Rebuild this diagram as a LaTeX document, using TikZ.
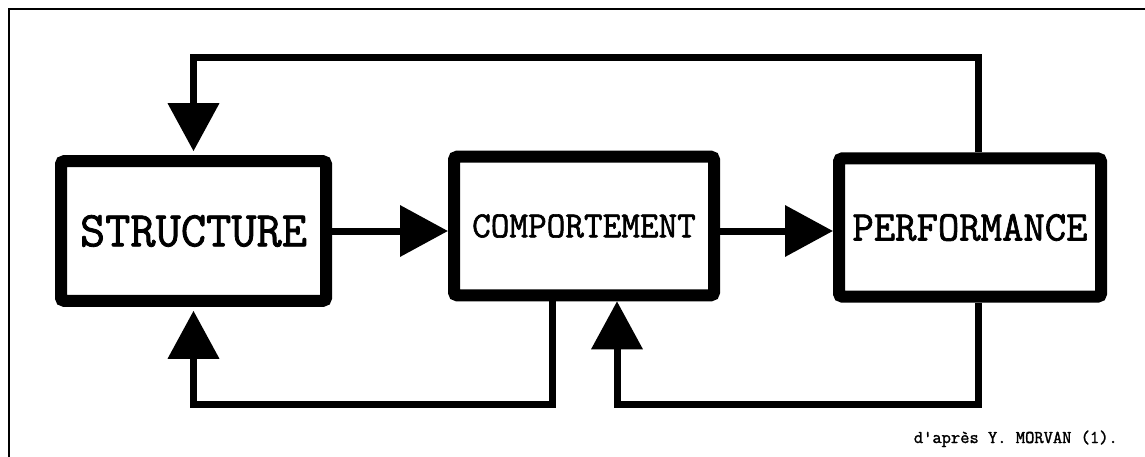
\documentclass[tikz,border=0pt]{standalone}
\usepackage{fontspec}
\usepackage{graphicx}
\usetikzlibrary{arrows.meta,calc}
\newfontfamily\heavymono{Latin Modern Mono}[FakeBold=1.6]
\tikzset{
  blockbox/.style={draw=black, line width=12pt, rounded corners=3pt, inner sep=0pt, fill=white},
  feed/.style={draw=black, line width=7pt, -{Triangle[length=48pt,width=50pt]}},
}
\newcommand{\blocklabel}[2]{\scalebox{1}[1.02]{\fontsize{#1}{#1}\heavymono #2}}
\begin{document}
\begin{tikzpicture}[x=1pt,y=-1pt]
\useasboundingbox (0,0) rectangle (1145,457);
% frame (top and left edges only)
\draw[line width=2pt] (9,457) -- (9,9) -- (1145,9);

\node[blockbox, minimum width=265pt, minimum height=139.5pt] (S) at (193.5,231) {\blocklabel{49pt}{STRUCTURE}};
\node[blockbox, minimum width=260pt, minimum height=138.5pt] (C) at (584,226) {\blocklabel{36.2pt}{COMPORTEMENT}};
\node[blockbox, minimum width=262pt, minimum height=138pt] (P) at (970,227.5) {\blocklabel{41.5pt}{PERFORMANCE}};

\coordinate (top) at (0,58);
\coordinate (bot) at (0,404);

% forward arrows
\draw[feed] (S.east) -- (S.east -| C.west);
\draw[feed] (C.east |- S.east) -- (P.west |- S.east);

% top feedback: PERFORMANCE -> STRUCTURE
\draw[feed, shorten >=4pt] ([xshift=8pt]P.north) -- ([xshift=8pt]P.north |- top) -- (S.north |- top) -- (S.north);
% bottom left: COMPORTEMENT -> STRUCTURE
\draw[feed, shorten >=4pt] ([xshift=-32pt]C.south) -- ([xshift=-32pt]C.south |- bot) -- (S.south |- bot) -- (S.south);
% bottom right: PERFORMANCE -> COMPORTEMENT
\draw[feed] ([xshift=8pt]P.south) -- ([xshift=8pt]P.south |- bot) -- ([xshift=33pt]C.south |- bot) -- ([xshift=33pt]C.south);

\node[anchor=base east, inner sep=0pt] (credit) at (1118,443) {\fontsize{18pt}{18pt}\heavymono d'après Y. MORVAN (1).};
\end{tikzpicture}
\end{document}
